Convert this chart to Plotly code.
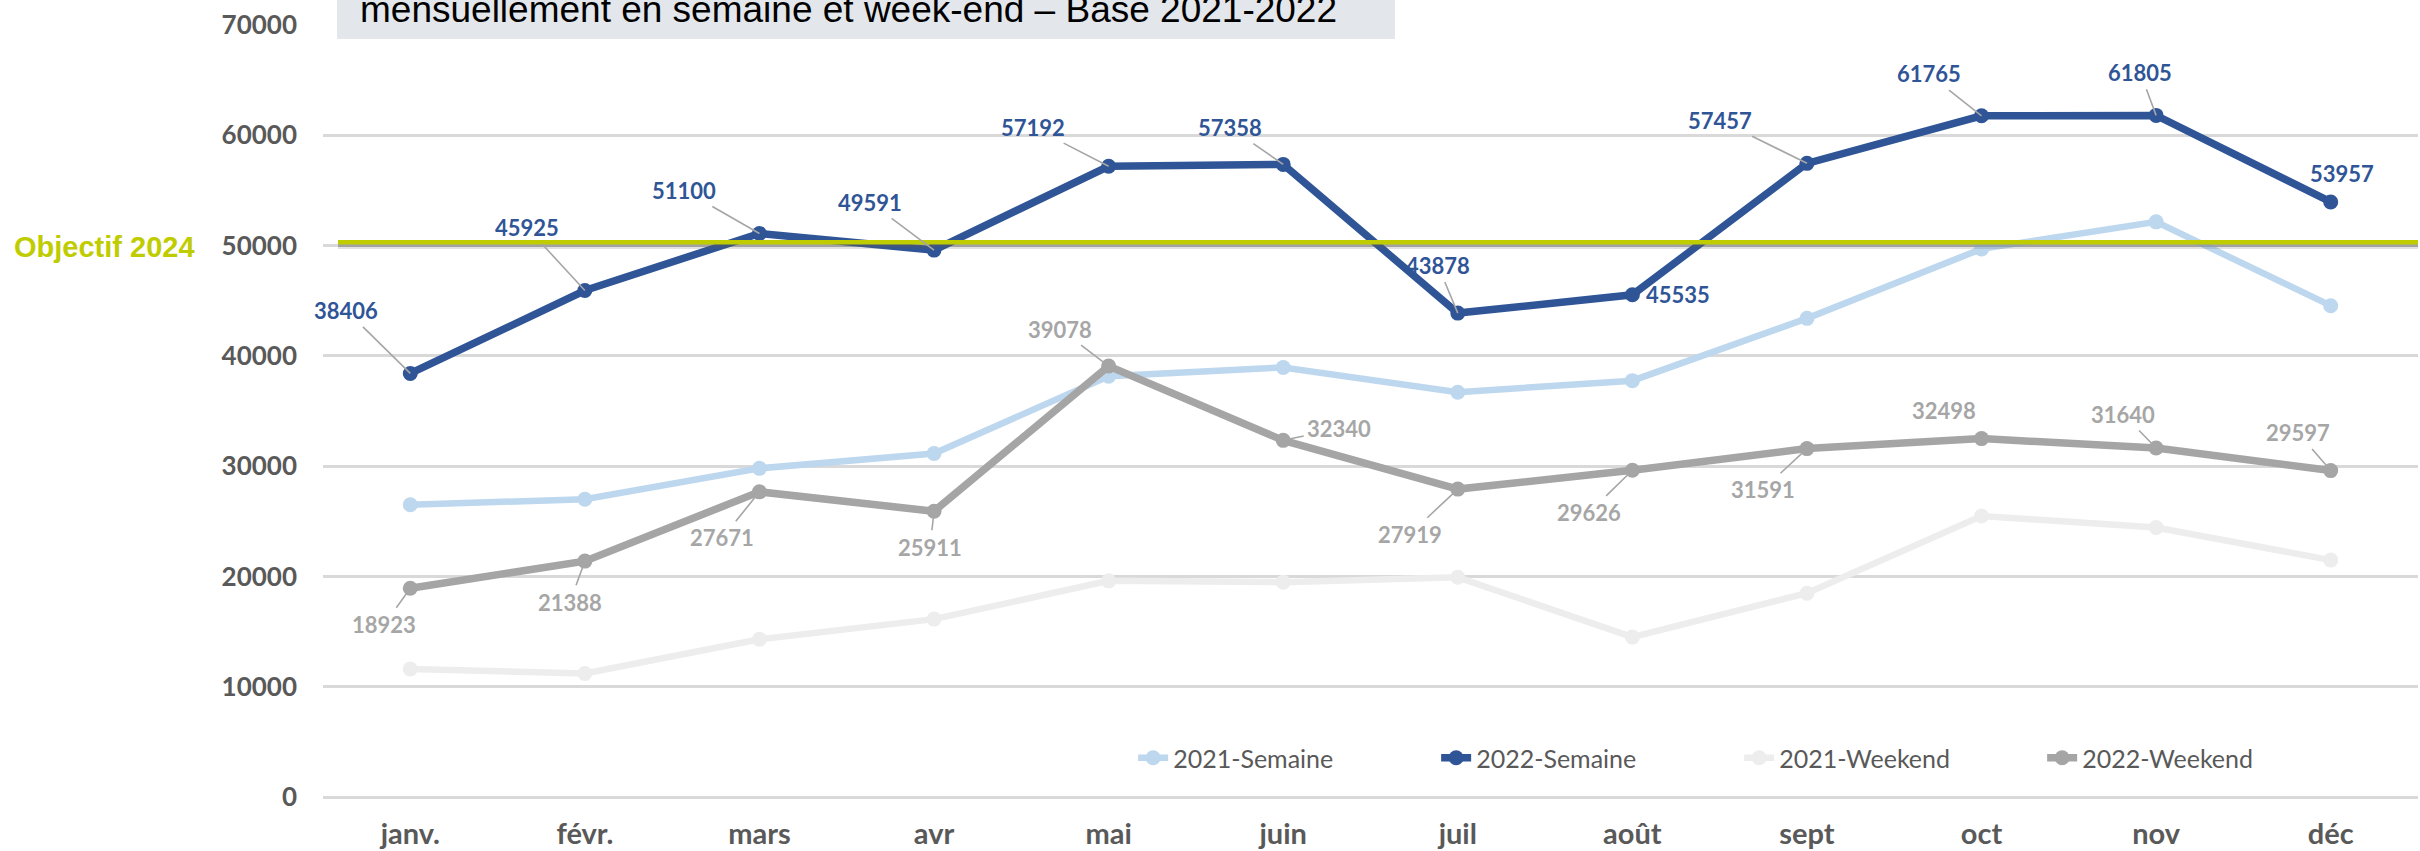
import plotly.graph_objects as go

months = ["janv.", "févr.", "mars", "avr", "mai", "juin", "juil", "août", "sept", "oct", "nov", "déc"]
sem_2021 = [26500, 27000, 29800, 31150, 38150, 38950, 36700, 37750, 43400, 49700, 52150, 44550]
sem_2022 = [38406, 45925, 51100, 49591, 57192, 57358, 43878, 45535, 57457, 61765, 61805, 53957]
we_2021 = [11600, 11200, 14300, 16130, 19600, 19480, 19920, 14500, 18480, 25480, 24430, 21480]
we_2022 = [18923, 21388, 27671, 25911, 39078, 32340, 27919, 29626, 31591, 32498, 31640, 29597]
objective = 50300
objective_label = "Objectif 2024"
title_line = "mensuellement en semaine et week-end – Base 2021-2022"
y_ticks = [0, 10000, 20000, 30000, 40000, 50000, 60000, 70000]

# label placement (pixel offsets from the point) and leader-line flags
sem22_dx = [-64, -58, -75, -64, -76, -53, -20, 46, -87, -53, -16, 11]
sem22_dy = [-63, -63, -43, -48, -39, -37, -48, 0, -43, -42, -43, -28]
sem22_leader = [1, 1, 1, 1, 1, 1, 1, 0, 1, 1, 1, 0]
we22_dx = [-26, -15, -37, -4, -49, 56, -48, -43, -44, -38, -33, -33]
we22_dy = [36, 41, 46, 36, -37, -12, 45, 42, 41, -28, -34, -38]
we22_leader = [1, 1, 1, 1, 1, 1, 1, 1, 1, 0, 1, 1]

C_SEM21 = "#BDD7EE"
C_SEM22 = "#2F5597"
C_WE21 = "#EDEDED"
C_WE22 = "#A5A5A5"
TXT = "#595959"
GREEN = "#BFCC00"

fig = go.Figure()

def add_line(name, vals, color, rank, width=6.5):
    fig.add_trace(go.Scatter(
        x=months, y=vals, name=name, mode="lines+markers",
        line=dict(color=color, width=width),
        marker=dict(color=color, size=15),
        legendrank=rank, hoverinfo="skip"))

add_line("2021-Weekend", we_2021, C_WE21, 3)
add_line("2021-Semaine", sem_2021, C_SEM21, 1)
add_line("2022-Weekend", we_2022, C_WE22, 4, 7.5)
add_line("2022-Semaine", sem_2022, C_SEM22, 2, 7.5)

annotations = []

def add_labels(vals, dxs, dys, leaders, color):
    for m, v, dx, dy, ld in zip(months, vals, dxs, dys, leaders):
        common = dict(x=m, y=v, xref="x", yref="y", text=str(v),
                      font=dict(family="Lato", size=22, color=color, weight="bold"))
        if ld:
            annotations.append(dict(**common, showarrow=True, ax=dx, ay=dy,
                                    arrowhead=0, arrowwidth=1.6, arrowcolor="#A6A6A6",
                                    standoff=0, startstandoff=2))
        else:
            annotations.append(dict(**common, showarrow=False, xshift=dx, yshift=-dy))

add_labels(sem_2022, sem22_dx, sem22_dy, sem22_leader, C_SEM22)
add_labels(we_2022, we22_dx, we22_dy, we22_leader, "#A6A6A6")

# Objective label
annotations.append(dict(x=-0.1485, xref="paper", xanchor="left", y=objective, yref="y",
                        yanchor="middle", yshift=-5, text=objective_label, showarrow=False,
                        font=dict(family="Liberation Sans", size=29, color=GREEN, weight="bold")))
# Title (truncated second line)
annotations.append(dict(x=0.0167, xref="paper", xanchor="left", y=1.0195, yref="paper",
                        yanchor="middle", text=title_line, showarrow=False,
                        font=dict(family="Liberation Sans", size=37, color="#000000")))

shapes = [
    dict(type="rect", xref="paper", yref="paper", x0=0.00668, x1=0.5117, y0=0.9819, y1=1.08,
         fillcolor="#E3E6EA", line=dict(width=0), layer="above"),
    dict(type="line", xref="paper", yref="y", x0=0.00716, x1=1, y0=objective - 330, y1=objective - 330,
         line=dict(color="rgba(90,90,90,0.18)", width=6), layer="above"),
    dict(type="line", xref="paper", yref="y", x0=0.00716, x1=1, y0=objective - 250, y1=objective - 250,
         line=dict(color="rgba(90,90,90,0.30)", width=4), layer="above"),
    dict(type="line", xref="paper", yref="y", x0=0.00716, x1=1, y0=objective, y1=objective,
         line=dict(color=GREEN, width=4.5), layer="above"),
]

fig.update_layout(
    width=2420, height=851, autosize=False,
    margin=dict(l=323, r=2, t=25, b=54, pad=0),
    paper_bgcolor="white", plot_bgcolor="white",
    showlegend=True,
    legend=dict(orientation="h", x=0.3867, xanchor="left", y=0.0505, yanchor="middle",
                bgcolor="rgba(0,0,0,0)", entrywidth=258, entrywidthmode="pixels",
                font=dict(family="Lato", size=25, color=TXT), traceorder="normal"),
    annotations=annotations, shapes=shapes,
)
fig.update_xaxes(type="category", categoryorder="array", categoryarray=months,
                 range=[-0.5, len(months) - 0.5],
                 showgrid=False, showline=False, zeroline=False, ticks="",
                 tickfont=dict(family="Lato", size=29, color=TXT, weight="bold"),
                 ticklabelstandoff=17, automargin=False)
fig.update_yaxes(range=[0, 70000], tickvals=y_ticks, ticktext=[str(t) for t in y_ticks],
                 showgrid=True, gridcolor="#D9D9D9", gridwidth=2.5,
                 zeroline=True, zerolinecolor="#D9D9D9", zerolinewidth=2.5,
                 showline=False, ticks="",
                 tickfont=dict(family="Lato", size=26, color=TXT, weight="bold"),
                 ticklabelstandoff=25, automargin=False)

fig.write_html("out.html", config={"displayModeBar": False},
               post_script="document.body.style.margin='0px';")
